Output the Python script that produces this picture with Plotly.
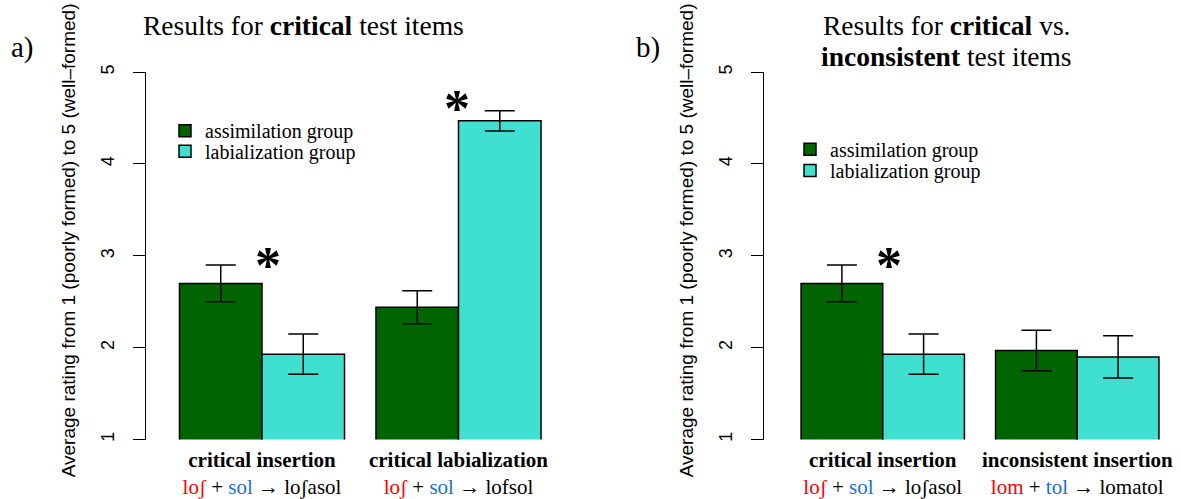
import plotly.graph_objects as go

# ---------------- data ----------------
categories_a = ["critical insertion", "critical labialization"]
assim_a = [2.70, 2.44]
assim_a_err = [0.20, 0.18]
labial_a = [1.93, 4.47]
labial_a_err = [0.22, 0.11]

categories_b = ["critical insertion", "inconsistent insertion"]
assim_b = [2.70, 1.97]
assim_b_err = [0.20, 0.22]
labial_b = [1.93, 1.90]
labial_b_err = [0.22, 0.23]

# second label line: (first word, second word, result)
words_a = [("loʃ", "sol", "loʃasol"), ("loʃ", "sol", "lofsol")]
words_b = [("loʃ", "sol", "loʃasol"), ("lom", "tol", "lomatol")]

# significant comparisons (category index)
sig_a = [0, 1]
sig_b = [0]

y_ticks = [1, 2, 3, 4, 5]
series_names = ["assimilation group", "labialization group"]

# ---------------- style ----------------
W, H = 1181, 499
GREEN = "#006400"
TURQ = "#40E0D0"
RED = "#FF0000"
BLUE = "#1874CD"
SERIF = "Liberation Serif, Times New Roman, serif"
SANS = "Liberation Sans, Arial, sans-serif"


def fx(p):
    return p / W


def fy(p):
    return 1 - p / H


def ticklabel(cat, w):
    return (f"<b>{cat}</b><br><span style='color:{RED}'>{w[0]}</span> + "
            f"<span style='color:{BLUE}'>{w[1]}</span> → {w[2]}")


fig = go.Figure()


def add_bar(x, y, err, color, name, xa, ya, leg):
    fig.add_trace(go.Bar(
        x=x, y=y, name=name, xaxis=xa, yaxis=ya, legend=leg, showlegend=True,
        marker=dict(color=color, line=dict(color="black", width=1.5)),
        error_y=dict(type="data", array=err, color="black", thickness=1.5, width=15),
        hoverinfo="x+y",
    ))


add_bar(categories_a, assim_a, assim_a_err, GREEN, series_names[0], "x", "y", "legend")
add_bar(categories_a, labial_a, labial_a_err, TURQ, series_names[1], "x", "y", "legend2")
add_bar(categories_b, assim_b, assim_b_err, GREEN, series_names[0], "x2", "y2", "legend3")
add_bar(categories_b, labial_b, labial_b_err, TURQ, series_names[1], "x2", "y2", "legend4")

ydom = [fy(444), fy(66)]

common_x = dict(showline=False, showgrid=False, zeroline=False, ticks="",
                tickfont=dict(family=SERIF, size=21, color="black"),
                ticklabelstandoff=5,
                range=[-0.5, 1.5], fixedrange=True)
common_y = dict(range=[1, 5], domain=ydom, showgrid=False, zeroline=False,
                showline=True, linecolor="black", linewidth=1,
                ticks="outside", ticklen=12, tickwidth=1, tickcolor="black",
                tickvals=y_ticks, tickangle=-90, ticklabelstandoff=12,
                tickfont=dict(family=SANS, size=18, color="black"),
                anchor="free", fixedrange=True)

legend_common = dict(font=dict(family=SERIF, size=20, color="black"),
                     bgcolor="rgba(0,0,0,0)", borderwidth=0,
                     xanchor="left", yanchor="middle", itemwidth=30)

fig.update_layout(
    width=W, height=H,
    margin=dict(l=0, r=0, t=0, b=0),
    paper_bgcolor="white", plot_bgcolor="white",
    showlegend=True,
    barmode="group", bargap=0.16, bargroupgap=0,
    xaxis=dict(domain=[fx(163.75), fx(556.75)], anchor="y",
               tickvals=categories_a,
               ticktext=[ticklabel(c, w) for c, w in zip(categories_a, words_a)],
               **common_x),
    xaxis2=dict(domain=[fx(785.5), fx(1174.5)], anchor="y2",
                tickvals=categories_b,
                ticktext=[ticklabel(c, w) for c, w in zip(categories_b, words_b)],
                **common_x),
    yaxis=dict(position=fx(145), **common_y),
    yaxis2=dict(position=fx(763), **common_y),
    legend=dict(x=fx(165), y=fy(126.2), **legend_common),
    legend2=dict(x=fx(165), y=fy(147.5), **legend_common),
    legend3=dict(x=fx(790), y=fy(145.2), **legend_common),
    legend4=dict(x=fx(790), y=fy(167.2), **legend_common),
)

ann = []
# panel titles
ann.append(dict(text="Results for <b>critical</b> test items", x=fx(141), y=fy(18),
                xref="paper", yref="paper", xanchor="left", yanchor="middle",
                showarrow=False, font=dict(family=SERIF, size=27.5, color="black")))
ann.append(dict(text="Results for <b>critical</b> vs.",
                x=fx(946), y=fy(17.5), xref="paper", yref="paper", xanchor="center",
                yanchor="middle", showarrow=False,
                font=dict(family=SERIF, size=27.5, color="black")))
ann.append(dict(text="<b>inconsistent</b> test items",
                x=fx(946), y=fy(49.5), xref="paper", yref="paper", xanchor="center",
                yanchor="middle", showarrow=False,
                font=dict(family=SERIF, size=27.5, color="black")))
# panel letters
ann.append(dict(text="a)", x=fx(9), y=fy(40.5), xref="paper", yref="paper",
                xanchor="left", yanchor="middle", showarrow=False,
                font=dict(family=SERIF, size=29, color="black")))
ann.append(dict(text="b)", x=fx(634), y=fy(40.5), xref="paper", yref="paper",
                xanchor="left", yanchor="middle", showarrow=False,
                font=dict(family=SERIF, size=29, color="black")))
# y axis titles
ytitle = "Average rating from 1 (poorly formed) to 5 (well–formed)"
for xc in (68, 686):
    ann.append(dict(text=ytitle, x=fx(xc), y=fy(239), xref="paper", yref="paper",
                    xanchor="center", yanchor="middle", textangle=-90, showarrow=False,
                    font=dict(family=SANS, size=19, color="black")))


# significance asterisks
def star(i, xa, ya, a_vals, a_err, l_vals, l_err):
    top = max(a_vals[i] + a_err[i], l_vals[i] + l_err[i])
    return dict(text="<b>*</b>", x=i, y=top, xref=xa, yref=ya, xanchor="center",
                yanchor="bottom", showarrow=False, xshift=6 if top < 4 else -2,
                yshift=-31 if top < 4 else -28,
                font=dict(family=SERIF, size=52, color="black"))


for i in sig_a:
    ann.append(star(i, "x", "y", assim_a, assim_a_err, labial_a, labial_a_err))
for i in sig_b:
    ann.append(star(i, "x2", "y2", assim_b, assim_b_err, labial_b, labial_b_err))

fig.update_layout(annotations=ann)

fig.write_html("out.html", config={"displayModeBar": False},
               post_script="document.body.style.margin='0';")
